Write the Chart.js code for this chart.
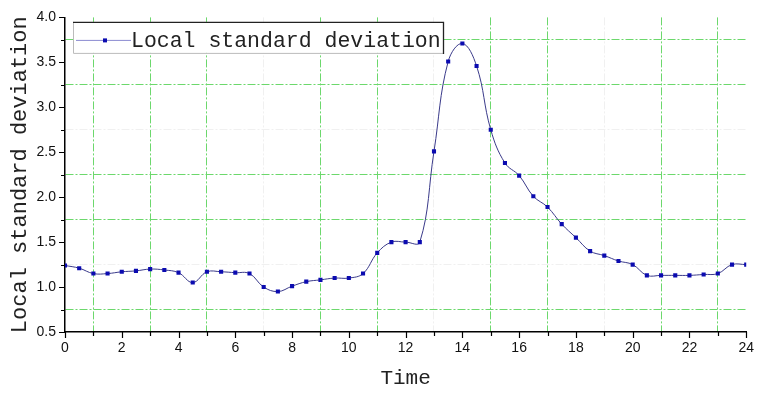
<!DOCTYPE html>
<html>
<head>
<meta charset="utf-8">
<script src="https://cdn.jsdelivr.net/npm/chart.js@4/dist/chart.umd.min.js"></script>
<style>
  html, body { margin: 0; padding: 0; background: #fff; }
  #chart { display: block; }
</style>
</head>
<body>
<canvas id="chart" width="762" height="394"></canvas>
<script>
const times = [
  0, 0.5, 1, 1.5, 2, 2.5, 3, 3.5, 4, 4.5, 5, 5.5, 6, 6.5, 7, 7.5,
  8, 8.5, 9, 9.5, 10, 10.5, 11, 11.5, 12, 12.5, 13, 13.5, 14, 14.5, 15, 15.5,
  16, 16.5, 17, 17.5, 18, 18.5, 19, 19.5, 20, 20.5, 21, 21.5, 22, 22.5, 23, 23.5, 24,
];
const localStd = [
  1.24, 1.21, 1.15, 1.15, 1.17, 1.18, 1.20, 1.19, 1.16, 1.05, 1.17, 1.17, 1.16, 1.15, 1.00, 0.95,
  1.01, 1.06, 1.08, 1.10, 1.10, 1.15, 1.38, 1.50, 1.50, 1.50, 2.51, 3.51, 3.71, 3.46, 2.75, 2.38,
  2.24, 2.01, 1.89, 1.70, 1.55, 1.40, 1.35, 1.29, 1.25, 1.13, 1.13, 1.13, 1.13, 1.14, 1.15, 1.25, 1.25,
];
const seriesName = "Local standard deviation";
const xTitle = "Time";
const yTitle = "Local standard deviation";

// grid lines that the original draws (green) and the faint ones
const xGreen = [1, 3, 5, 9, 11, 15, 17, 21, 23];
const xFaint = [7, 13, 19];
const yGreen = [0.75, 1.75, 2.25, 3.25, 3.75];
const yFaint = [1.25, 2.75];

const GREEN = "#6cd86c";
const FAINT = "#f0f0f0";
const MONO = "'Liberation Mono', 'DejaVu Sans Mono', monospace";
const TICK_FONT = { family: "'Liberation Sans', Arial, sans-serif", size: 14 };

function gridColor(greens, faints) {
  return (ctx) => {
    const v = ctx.tick && ctx.tick.value;
    if (greens.includes(v)) return GREEN;
    if (faints.includes(v)) return FAINT;
    return "rgba(0,0,0,0)";
  };
}

// tick marks: long on labelled values, short on the others
const tickMarks = {
  id: "tickMarks",
  afterDraw(chart) {
    const { ctx, scales: { x, y }, chartArea } = chart;
    ctx.save();
    ctx.strokeStyle = "#000";
    ctx.lineWidth = 1.2;
    ctx.beginPath();
    x.ticks.forEach((t) => {
      const px = Math.round(x.getPixelForValue(t.value)) + 0.5;
      const len = t.value % 2 === 0 ? 6 : 4;
      ctx.moveTo(px, chartArea.bottom);
      ctx.lineTo(px, chartArea.bottom + len);
    });
    y.ticks.forEach((t) => {
      const py = Math.round(y.getPixelForValue(t.value)) + 0.5;
      const len = Math.abs(t.value * 2 - Math.round(t.value * 2)) < 1e-9 ? 6 : 4;
      ctx.moveTo(chartArea.left, py);
      ctx.lineTo(chartArea.left - len, py);
    });
    ctx.stroke();
    ctx.restore();
  },
};

// boxed legend in the top left corner of the plot
const boxLegend = {
  id: "boxLegend",
  afterDraw(chart) {
    const { ctx, chartArea } = chart;
    const ds = chart.data.datasets[0];
    const left = chartArea.left + 8;
    const top = chartArea.top + 4.5;
    const right = left + 370;
    const bottom = top + 31;
    ctx.save();
    ctx.fillStyle = "#fff";
    ctx.fillRect(left, top, right - left, bottom - top);
    ctx.lineWidth = 1;
    ctx.strokeStyle = "#bbbbbb";
    ctx.beginPath();
    ctx.moveTo(left + 0.5, top);
    ctx.lineTo(left + 0.5, bottom + 0.5);
    ctx.lineTo(right, bottom + 0.5);
    ctx.stroke();
    ctx.strokeStyle = "#222";
    ctx.lineWidth = 1.3;
    ctx.beginPath();
    ctx.moveTo(left, top + 0.5);
    ctx.lineTo(right + 0.5, top + 0.5);
    ctx.lineTo(right + 0.5, bottom + 1);
    ctx.stroke();

    const midY = top + 18;
    ctx.strokeStyle = "#8a8ad0";
    ctx.lineWidth = 1;
    ctx.beginPath();
    ctx.moveTo(left + 3, midY + 0.5);
    ctx.lineTo(left + 58, midY + 0.5);
    ctx.stroke();
    ctx.fillStyle = ds.pointBackgroundColor;
    ctx.fillRect(left + 30, midY - 1.5, 4, 4);

    ctx.fillStyle = "#222";
    ctx.font = "21.5px " + MONO;
    ctx.textBaseline = "alphabetic";
    ctx.fillText(ds.label, left + 58, top + 25);
    ctx.restore();
  },
};

new Chart(document.getElementById("chart"), {
  type: "line",
  data: {
    datasets: [
      {
        label: seriesName,
        data: times.map((t, i) => ({ x: t, y: localStd[i] })),
        borderColor: "#3a3a8a",
        borderWidth: 1,
        pointStyle: "rect",
        pointRadius: 2.9,
        pointBorderWidth: 0,
        pointBackgroundColor: "#0b0bb0",
        tension: 0.4,
      },
    ],
  },
  options: {
    responsive: false,
    animation: false,
    layout: { padding: { left: 0, top: 14.6, right: 10, bottom: 0 } },
    plugins: {
      legend: { display: false },
      tooltip: { enabled: false },
    },
    scales: {
      x: {
        type: "linear",
        min: 0,
        max: 24,
        afterFit: (s) => { s.height = 62; },
        ticks: {
          stepSize: 1,
          autoSkip: false,
          maxRotation: 0,
          padding: 8,
          color: "#111",
          font: TICK_FONT,
          callback: (v) => (v % 2 === 0 ? String(v) : ""),
        },
        grid: {
          color: gridColor(xGreen, xFaint),
          lineWidth: 1,
          drawTicks: false,
        },
        border: { display: true, color: "#000", width: 1.5, dash: [8, 2, 2, 2] },
        title: {
          display: true,
          text: xTitle,
          color: "#222",
          font: { family: MONO, size: 21 },
          padding: { top: 0, bottom: 3 },
        },
      },
      y: {
        min: 0.5,
        max: 4.0,
        afterFit: (s) => { s.width = 65; },
        ticks: {
          stepSize: 0.25,
          autoSkip: false,
          padding: 9,
          color: "#111",
          font: TICK_FONT,
          callback: (v) => (Math.abs(v * 2 - Math.round(v * 2)) < 1e-9 ? v.toFixed(1) : ""),
        },
        grid: {
          color: gridColor(yGreen, yFaint),
          lineWidth: 1,
          drawTicks: false,
        },
        border: { display: true, color: "#000", width: 1.5, dash: [8, 2, 2, 2] },
        title: {
          display: true,
          text: yTitle,
          color: "#222",
          font: { family: MONO, size: 22 },
          padding: { top: 7, bottom: 0 },
        },
      },
    },
  },
  plugins: [tickMarks, boxLegend],
});
</script>
</body>
</html>
